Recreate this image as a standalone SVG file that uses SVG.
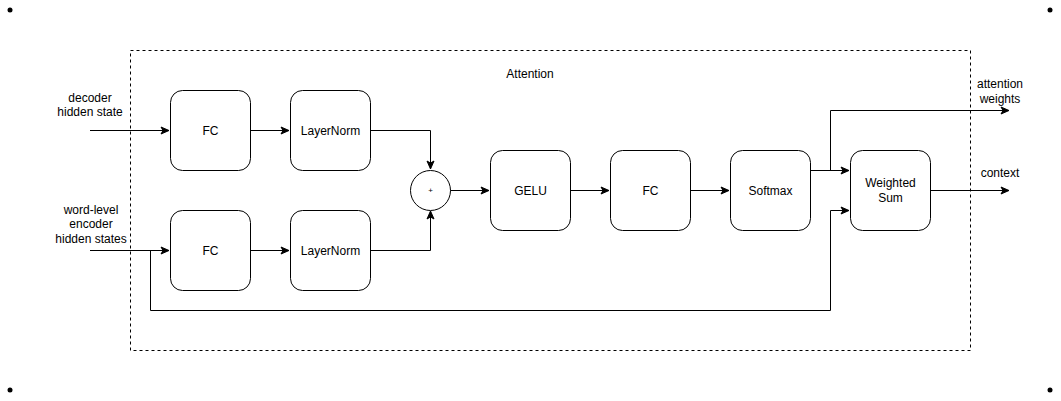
<svg xmlns="http://www.w3.org/2000/svg" width="1061" height="401" viewBox="0 0 1061 401">
<style>
text{font-family:"Liberation Sans",Arial,sans-serif;font-size:12px;fill:#000;text-anchor:middle;dominant-baseline:central}
.box{fill:#fff;stroke:#000;stroke-width:1}
.edge{fill:none;stroke:#000;stroke-width:1}
</style>
<defs>
<marker id="arr" viewBox="0 0 10 10" refX="9" refY="5" markerWidth="10" markerHeight="10" markerUnits="userSpaceOnUse" orient="auto">
<path d="M1,1.5 L9,5 L1,8.5 L3,5 Z" fill="#000" stroke="#000" stroke-width="1"/>
</marker>
</defs>
<rect width="1061" height="401" fill="#fff"/>
<g id="corners" fill="#000">
<circle cx="10" cy="10" r="2.5"/><circle cx="1050" cy="10" r="2.5"/>
<circle cx="10" cy="390" r="2.5"/><circle cx="1050" cy="390" r="2.5"/>
</g>
<g id="attention">
<rect x="130.5" y="50.5" width="840" height="300" fill="none" stroke="#000" stroke-dasharray="3,3"/>
<text x="530" y="74">Attention</text>
</g>
<g id="connectors">
<path class="edge" d="M90,130.5 H169" marker-end="url(#arr)"/>
<path class="edge" d="M90,250.5 H169" marker-end="url(#arr)"/>
<path class="edge" d="M250,130.5 H289" marker-end="url(#arr)"/>
<path class="edge" d="M250,250.5 H289" marker-end="url(#arr)"/>
<path class="edge" d="M370,130.5 H430.5 V169" marker-end="url(#arr)"/>
<path class="edge" d="M370,250.5 H430.5 V211" marker-end="url(#arr)"/>
<path class="edge" d="M450,190.5 H489" marker-end="url(#arr)"/>
<path class="edge" d="M570,190.5 H609" marker-end="url(#arr)"/>
<path class="edge" d="M690,190.5 H729" marker-end="url(#arr)"/>
<path class="edge" d="M810,170.5 H849" marker-end="url(#arr)"/>
<path class="edge" d="M830.5,170.5 V110.5 H1009" marker-end="url(#arr)"/>
<path class="edge" d="M930,190.5 H1009" marker-end="url(#arr)"/>
<path class="edge" d="M150.5,250.5 V310.5 H830.5 V210.5 H849" marker-end="url(#arr)"/>
</g>
<g id="fc1"><rect class="box" x="170.5" y="90.5" width="80" height="80" rx="12"/><text x="210.5" y="130.5">FC</text></g>
<g id="ln1"><rect class="box" x="290.5" y="90.5" width="80" height="80" rx="12"/><text x="330.5" y="130.5">LayerNorm</text></g>
<g id="fc2"><rect class="box" x="170.5" y="210.5" width="80" height="80" rx="12"/><text x="210.5" y="250.5">FC</text></g>
<g id="ln2"><rect class="box" x="290.5" y="210.5" width="80" height="80" rx="12"/><text x="330.5" y="250.5">LayerNorm</text></g>
<g id="plus"><circle class="box" cx="430.5" cy="190.5" r="20"/><text x="430.5" y="190.5" style="font-size:8px">+</text></g>
<g id="gelu"><rect class="box" x="490.5" y="150.5" width="80" height="80" rx="12"/><text x="530.5" y="190.5">GELU</text></g>
<g id="fc3"><rect class="box" x="610.5" y="150.5" width="80" height="80" rx="12"/><text x="650.5" y="190.5">FC</text></g>
<g id="softmax"><rect class="box" x="730.5" y="150.5" width="80" height="80" rx="12"/><text x="770.5" y="190.5">Softmax</text></g>
<g id="wsum"><rect class="box" x="850.5" y="150.5" width="80" height="80" rx="12"/><text x="890.5" y="183">Weighted</text><text x="890.5" y="198">Sum</text></g>
<g id="labels">
<text x="90" y="98">decoder</text>
<text x="90" y="112">hidden state</text>
<text x="91" y="210">word-level</text>
<text x="91" y="224">encoder</text>
<text x="91" y="239">hidden states</text>
<text x="1000" y="84">attention</text>
<text x="1000" y="99">weights</text>
<text x="1000" y="173">context</text>
</g>
</svg>
